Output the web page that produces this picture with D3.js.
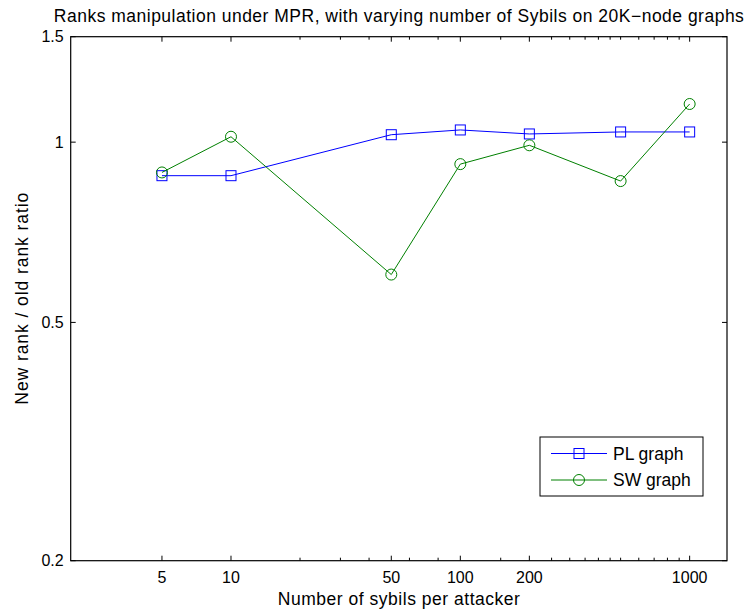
<!DOCTYPE html>
<html>
<head>
<meta charset="utf-8">
<script src="https://cdn.jsdelivr.net/npm/d3@7"></script>
<style>
  body { margin: 0; background: #fff; }
  svg { display: block; font-family: "Liberation Sans", Arial, sans-serif; }
</style>
</head>
<body>
<div id="chart"></div>
<script>
// sybils per attacker, and new/old rank ratio
const sybils = [5, 10, 50, 100, 200, 500, 1000];
const plRatio = [0.879, 0.879, 1.029, 1.048, 1.032, 1.040, 1.040];
const swRatio = [0.890, 1.021, 0.601, 0.919, 0.988, 0.861, 1.158];

const xTickLabels = [5, 10, 50, 100, 200, 1000];
const xTicksMinor = [20, 30, 40, 60, 80, 150, 250, 300, 350, 400, 450, 500, 600, 700, 800, 900];
const yTickLabels = [0.2, 0.5, 1, 1.5];

const W = 749, H = 613;
const margin = { top: 36.7, right: 22, bottom: 52.3, left: 70.7 };
const width = W - margin.left - margin.right;
const height = H - margin.top - margin.bottom;

const svg = d3.select('#chart').append('svg')
  .attr('width', W)
  .attr('height', H);

const g = svg.append('g')
  .attr('transform', `translate(${margin.left},${margin.top})`);

const x = d3.scaleLog().domain([2, 1455]).range([0, width]);
const y = d3.scaleLog().domain([0.2, 1.5]).range([height, 0]);

const series = [
  { name: 'PL graph', values: plRatio, color: '#0000ff', marker: 'square' },
  { name: 'SW graph', values: swRatio, color: '#008000', marker: 'circle' }
];

// ticks (bottom + mirrored top, left + mirrored right)
function xTickMarks(ticks, len) {
  ticks.forEach(t => {
    g.append('line').attr('x1', x(t)).attr('x2', x(t))
      .attr('y1', height).attr('y2', height - len)
      .attr('stroke', '#000');
    g.append('line').attr('x1', x(t)).attr('x2', x(t))
      .attr('y1', 0).attr('y2', len)
      .attr('stroke', '#000');
  });
}
xTickMarks(xTickLabels, 5);
xTickMarks(xTicksMinor, 3);

yTickLabels.forEach(t => {
  g.append('line').attr('x1', 0).attr('x2', 5)
    .attr('y1', y(t)).attr('y2', y(t)).attr('stroke', '#000');
  g.append('line').attr('x1', width - 5).attr('x2', width)
    .attr('y1', y(t)).attr('y2', y(t)).attr('stroke', '#000');
});

// tick labels
g.selectAll('.xlab').data(xTickLabels).enter().append('text')
  .attr('class', 'xlab')
  .attr('x', d => x(d))
  .attr('y', height + 22)
  .attr('text-anchor', 'middle')
  .attr('font-size', 16)
  .text(d => d);

g.selectAll('.ylab').data(yTickLabels).enter().append('text')
  .attr('class', 'ylab')
  .attr('x', -7)
  .attr('y', d => y(d))
  .attr('dy', '0.36em')
  .attr('text-anchor', 'end')
  .attr('font-size', 16)
  .text(d => d);

// lines and markers
const line = d3.line()
  .x((d, i) => x(sybils[i]))
  .y(d => y(d));

series.forEach(s => {
  g.append('path')
    .datum(s.values)
    .attr('d', line)
    .attr('fill', 'none')
    .attr('stroke', s.color)
    .attr('stroke-width', 1);

  if (s.marker === 'square') {
    g.selectAll(null).data(s.values).enter().append('rect')
      .attr('x', (d, i) => x(sybils[i]) - 5)
      .attr('y', d => y(d) - 5)
      .attr('width', 10).attr('height', 10)
      .attr('fill', 'none').attr('stroke', s.color);
  } else {
    g.selectAll(null).data(s.values).enter().append('circle')
      .attr('cx', (d, i) => x(sybils[i]))
      .attr('cy', d => y(d))
      .attr('r', 5.5)
      .attr('fill', 'none').attr('stroke', s.color);
  }
});

// box
g.append('rect')
  .attr('width', width).attr('height', height)
  .attr('fill', 'none').attr('stroke', '#000').attr('stroke-width', 1.2);

// legend
const lg = svg.append('g').attr('transform', 'translate(540,437)');
lg.append('rect').attr('width', 163).attr('height', 59)
  .attr('fill', '#fff').attr('stroke', '#000').attr('stroke-width', 1);
series.forEach((s, i) => {
  const ly = 16.5 + i * 26.5;
  lg.append('line').attr('x1', 11).attr('x2', 67)
    .attr('y1', ly).attr('y2', ly).attr('stroke', s.color);
  if (s.marker === 'square') {
    lg.append('rect').attr('x', 34).attr('y', ly - 5)
      .attr('width', 10).attr('height', 10)
      .attr('fill', 'none').attr('stroke', s.color);
  } else {
    lg.append('circle').attr('cx', 39).attr('cy', ly).attr('r', 5.5)
      .attr('fill', 'none').attr('stroke', s.color);
  }
  lg.append('text').attr('x', 73).attr('y', ly).attr('dy', '0.36em')
    .attr('font-size', 17.5).text(s.name);
});

// titles
svg.append('text')
  .attr('x', margin.left + width / 2).attr('y', 22)
  .attr('text-anchor', 'middle').attr('font-size', 17.5)
  .attr('textLength', 690).attr('lengthAdjust', 'spacing')
  .text('Ranks manipulation under MPR, with varying number of Sybils on 20K\u2212node graphs');

svg.append('text')
  .attr('x', margin.left + width / 2).attr('y', 605)
  .attr('text-anchor', 'middle').attr('font-size', 17.5)
  .attr('textLength', 242).attr('lengthAdjust', 'spacing')
  .text('Number of sybils per attacker');

svg.append('text')
  .attr('transform', `translate(27.5,${margin.top + height / 2}) rotate(-90)`)
  .attr('text-anchor', 'middle').attr('font-size', 17.5)
  .attr('textLength', 212).attr('lengthAdjust', 'spacing')
  .text('New rank / old rank ratio');
</script>
</body>
</html>
